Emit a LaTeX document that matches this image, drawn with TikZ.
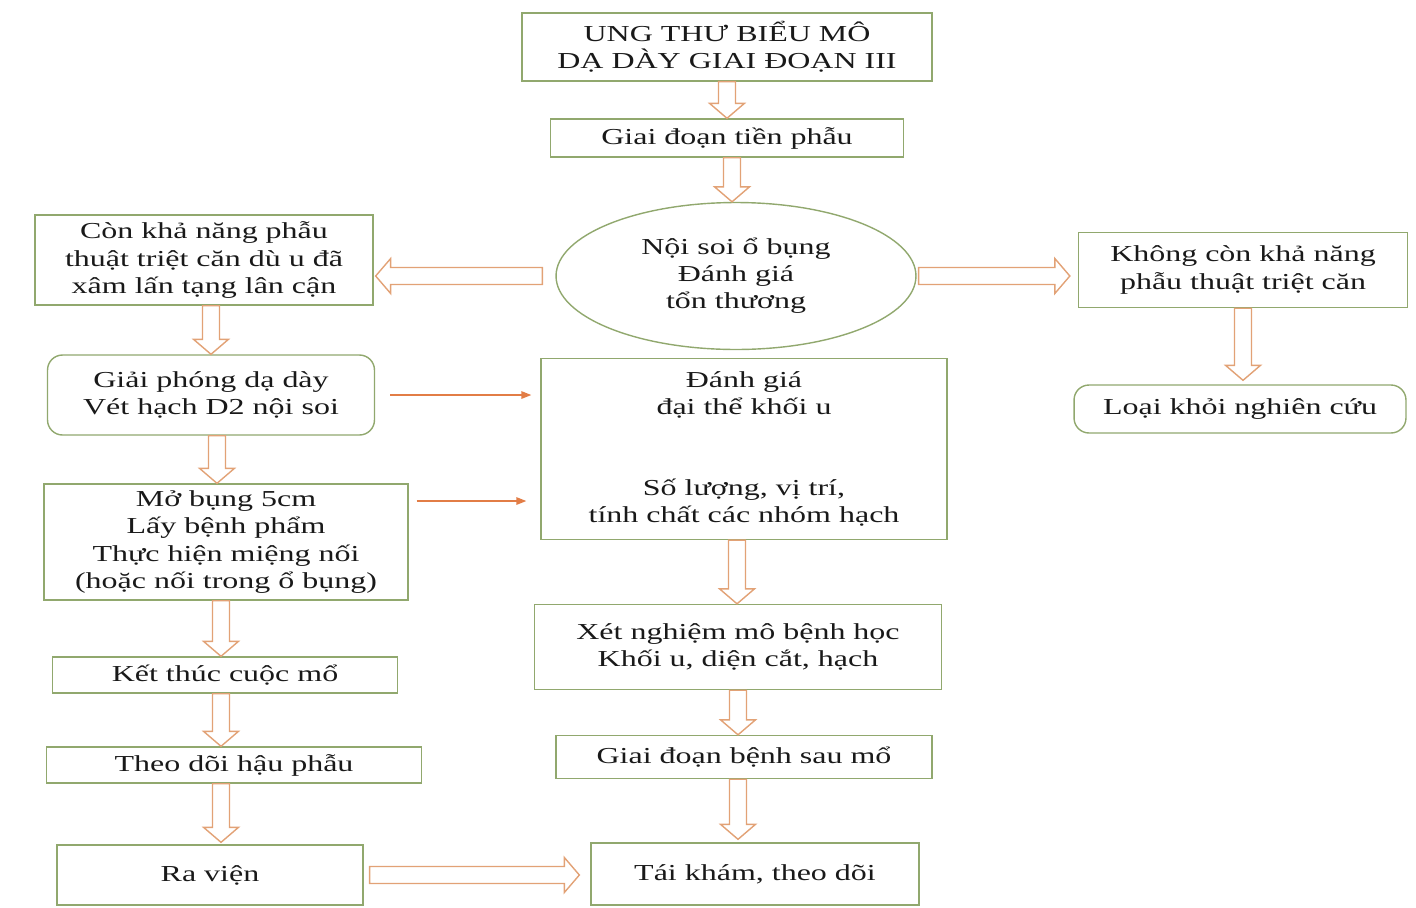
\documentclass[tikz,border=0pt]{standalone}
\usepackage{fontspec}
\setmainfont{Liberation Serif}[FakeStretch=1.4]
\usetikzlibrary{shapes.geometric, arrows.meta, calc}

\definecolor{boxc}{RGB}{145,168,110}
\definecolor{arrc}{RGB}{226,162,118}
\definecolor{linkc}{RGB}{226,125,70}
\definecolor{txtc}{RGB}{25,25,25}

\tikzset{
  box/.style={draw=boxc, line width=0.8pt, align=center, inner sep=2pt},
  rbox/.style={box, rounded corners=0.3cm},
  link/.style={draw=linkc, line width=0.8pt, -{Triangle[length=0.2cm, width=0.15cm]}},
  hollow/.style={draw=arrc, fill=white, line width=0.8pt,
    to path={let \p1=($(\tikztotarget)-(\tikztostart)$),
      \n1={atan2(\y1,\x1)}, \n2={veclen(\x1,\y1)} in
      {[shift={(\tikztostart)}, rotate=\n1]
       (0,-0.17cm) -- (\n2-0.3cm,-0.17cm) -- (\n2-0.3cm,-0.35cm) -- (\n2,0)
       -- (\n2-0.3cm,0.35cm) -- (\n2-0.3cm,0.17cm) -- (0,0.17cm) -- cycle}}}
}

\begin{document}
\begin{tikzpicture}[x=0.02cm, y=-0.02cm, every node/.style={font=\fontsize{13pt}{15.4pt}\selectfont, text=txtc}]
  \useasboundingbox (0,0) rectangle (1416,907);

  % middle column
  \node[box, minimum width=8.2cm, minimum height=1.36cm] (top) at (727,47) {UNG THƯ BIỂU MÔ\\DẠ DÀY GIAI ĐOẠN III};
  \node[box, minimum width=7.06cm, minimum height=0.76cm] (pre) at (727,138) {Giai đoạn tiền phẫu};
  \node[ellipse, draw=boxc, line width=0.8pt, align=center, minimum width=7.2cm, minimum height=2.94cm] (ell) at (736,276) {Nội soi ổ bụng\\Đánh giá\\tổn thương};
  \node[box, minimum width=8.12cm, minimum height=3.62cm] (dg) at (744,449) {Đánh giá\\đại thể khối u\\ \\ \\Số lượng, vị trí,\\tính chất các nhóm hạch};
  \node[box, minimum width=8.14cm, minimum height=1.7cm] (xn) at (738,647) {Xét nghiệm mô bệnh học\\Khối u, diện cắt, hạch};
  \node[box, minimum width=7.52cm, minimum height=0.86cm] (gdb) at (744,757) {Giai đoạn bệnh sau mổ};
  \node[box, minimum width=6.56cm, minimum height=1.24cm] (tk) at (755,874) {Tái khám, theo dõi};

  % left column
  \node[box, minimum width=6.76cm, minimum height=1.8cm] (con) at (204,260) {Còn khả năng phẫu\\thuật triệt căn dù u đã\\xâm lấn tạng lân cận};
  \node[rbox, minimum width=6.54cm, minimum height=1.6cm] (gp) at (211,395) {Giải phóng dạ dày\\Vét hạch D2 nội soi};
  \node[box, minimum width=7.28cm, minimum height=2.32cm] (mo) at (226,542) {Mở bụng 5cm\\Lấy bệnh phẩm\\Thực hiện miệng nối\\(hoặc nối trong ổ bụng)};
  \node[box, minimum width=6.9cm, minimum height=0.72cm] (kt) at (225,675) {Kết thúc cuộc mổ};
  \node[box, minimum width=7.5cm, minimum height=0.72cm] (td) at (234,765) {Theo dõi hậu phẫu};
  \node[box, minimum width=6.12cm, minimum height=1.2cm] (rv) at (210,875) {Ra viện};

  % right column
  \node[box, minimum width=6.58cm, minimum height=1.5cm] (khong) at (1243,270) {Không còn khả năng\\phẫu thuật triệt căn};
  \node[rbox, minimum width=6.64cm, minimum height=0.96cm] (loai) at (1240,409) {Loại khỏi nghiên cứu};

  % hollow arrows
  \draw[hollow] (top.south) to (pre.north);
  \draw[hollow] ([xshift=0.1cm]pre.south) to ([xshift=0.1cm]pre.south |- ell.north);
  \draw[hollow] ([xshift=-0.26cm]ell.west) to ([xshift=0.04cm]ell.west -| con.east);
  \draw[hollow] ([xshift=0.04cm]ell.east) to ([xshift=-0.16cm]ell.east -| khong.west);
  \draw[hollow] (khong.south) to ([yshift=0.08cm]khong.south |- loai.north);
  \draw[hollow] ([xshift=0.14cm]con.south) to ([xshift=0.14cm]con.south |- gp.north);
  \draw[hollow] ([xshift=0.12cm]gp.south) to ([xshift=0.12cm]gp.south |- mo.north);
  \draw[hollow] ([xshift=-0.1cm]mo.south) to ([xshift=-0.1cm]mo.south |- kt.north);
  \draw[hollow] ([xshift=-0.08cm]kt.south) to ([xshift=-0.08cm]kt.south |- td.north);
  \draw[hollow] ([xshift=-0.26cm]td.south) to ([xshift=-0.26cm,yshift=0.04cm]td.south |- rv.north);
  \draw[hollow] ([xshift=-0.14cm]dg.south) to ([xshift=-0.14cm]dg.south |- xn.north);
  \draw[hollow] (xn.south) to (xn.south |- gdb.north);
  \draw[hollow] ([xshift=-0.12cm]gdb.south) to ([xshift=-0.12cm,yshift=0.06cm]gdb.south |- tk.north);
  \draw[hollow] ([xshift=0.12cm]rv.east) to ([xshift=-0.22cm]rv.east -| tk.west);

  % thin links
  \coordinate (m1) at ([shift={(0.16cm,0.82cm)}]mo.east);
  \draw[link] ([xshift=0.3cm]gp.east) -- ([xshift=-0.18cm]gp.east -| dg.west);
  \draw[link] (m1) -- ([xshift=-0.28cm]m1 -| dg.west);
\end{tikzpicture}
\end{document}
